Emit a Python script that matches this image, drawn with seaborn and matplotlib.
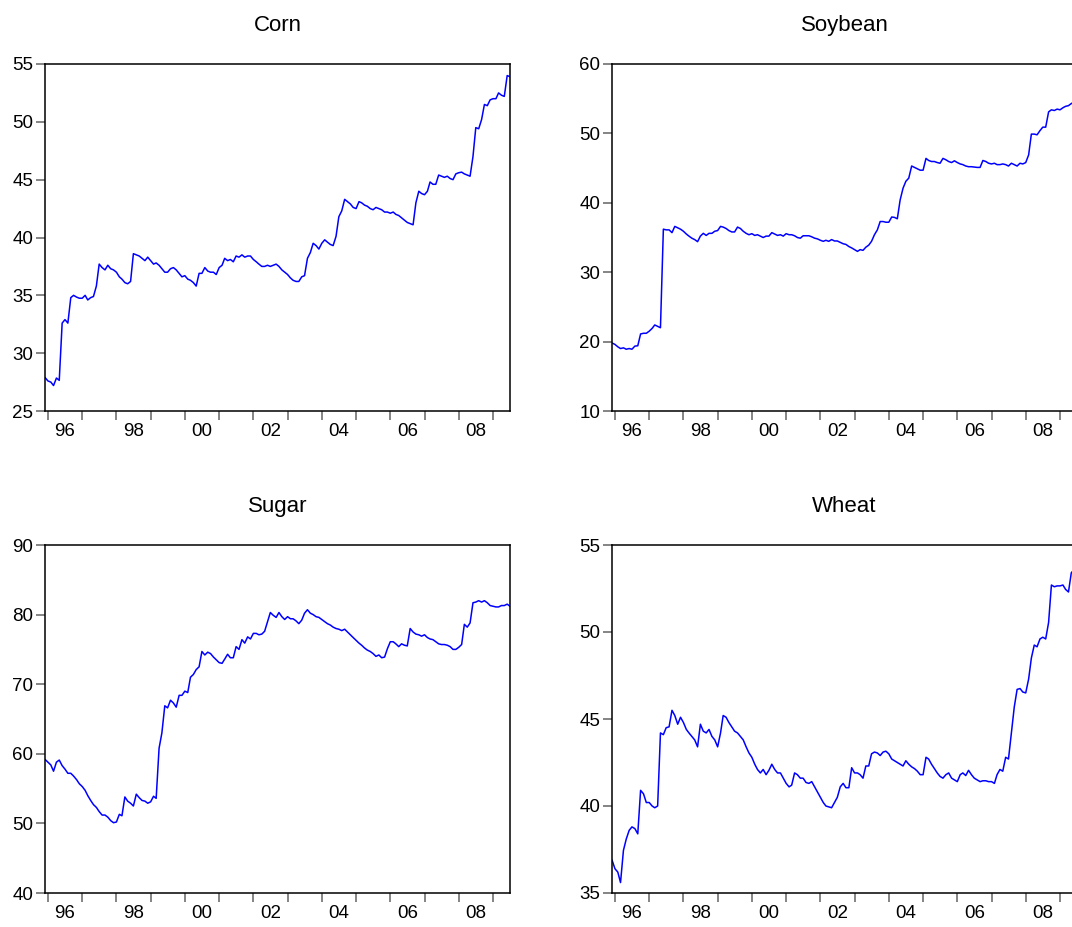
import pandas as pd
import matplotlib
matplotlib.use('Agg')
import matplotlib.pyplot as plt
import matplotlib.dates as mdates
import seaborn as sns

# monthly prices, Dec 1995 .. Jul 2009
corn = [27.9,
        27.6, 27.5, 27.2, 27.85, 27.65, 32.6, 32.9, 32.6, 34.8, 35.0, 34.85, 34.75,
        34.75, 35.0, 34.6, 34.8, 34.9, 35.8, 37.7, 37.4, 37.2, 37.6, 37.3, 37.2,
        37.0, 36.6, 36.4, 36.1, 36.0, 36.2, 38.6, 38.5, 38.4, 38.2, 38.0, 38.3,
        38.0, 37.7, 37.8, 37.6, 37.3, 37.0, 37.0, 37.3, 37.4, 37.2, 36.9, 36.6,
        36.7, 36.4, 36.3, 36.1, 35.8, 36.9, 36.9, 37.4, 37.1, 37.0, 37.0, 36.8,
        37.4, 37.6, 38.2, 38.0, 38.1, 37.9, 38.4, 38.3, 38.5, 38.3, 38.4, 38.4,
        38.1, 37.9, 37.7, 37.5, 37.5, 37.6, 37.5, 37.6, 37.7, 37.5, 37.2, 37.0,
        36.8, 36.5, 36.3, 36.2, 36.2, 36.6, 36.7, 38.2, 38.7, 39.5, 39.3, 39.0,
        39.5, 39.8, 39.6, 39.4, 39.3, 40.1, 41.8, 42.3, 43.3, 43.1, 42.9, 42.6,
        42.5, 43.1, 43.0, 42.8, 42.7, 42.5, 42.4, 42.6, 42.5, 42.4, 42.2, 42.2,
        42.1, 42.2, 42.0, 41.9, 41.7, 41.5, 41.3, 41.2, 41.1, 43.0, 44.0, 43.8,
        43.7, 44.0, 44.8, 44.6, 44.6, 45.4, 45.3, 45.2, 45.3, 45.1, 45.0, 45.5,
        45.6, 45.65, 45.5, 45.4, 45.3, 47.0, 49.5, 49.4, 50.2, 51.5, 51.4, 51.9,
        52.0, 52.0, 52.5, 52.3, 52.2, 54.0, 53.9]

soybean = [19.8,
           19.6, 19.25, 19.0, 19.1, 18.9, 19.0, 18.9, 19.35, 19.4, 21.1, 21.2, 21.2,
           21.5, 21.9, 22.4, 22.2, 22.0, 36.2, 36.1, 36.1, 35.7, 36.6, 36.4, 36.2,
           35.9, 35.5, 35.2, 34.9, 34.7, 34.4, 35.2, 35.6, 35.3, 35.6, 35.6, 35.9,
           36.0, 36.6, 36.5, 36.3, 36.0, 35.8, 35.8, 36.5, 36.3, 35.9, 35.6, 35.4,
           35.55, 35.3, 35.4, 35.2, 35.0, 35.2, 35.2, 35.7, 35.5, 35.3, 35.4, 35.2,
           35.55, 35.4, 35.4, 35.25, 35.0, 34.9, 35.25, 35.25, 35.25, 35.1, 34.9, 34.8,
           34.6, 34.45, 34.6, 34.45, 34.7, 34.5, 34.5, 34.3, 34.1, 34.0, 33.7, 33.5,
           33.25, 33.0, 33.25, 33.15, 33.6, 33.9, 34.45, 35.4, 36.1, 37.3, 37.3, 37.2,
           37.2, 37.95, 37.9, 37.7, 40.4, 42.1, 43.1, 43.55, 45.3, 45.1, 44.9, 44.7,
           44.7, 46.4, 46.1, 45.95, 45.95, 45.8, 45.7, 46.4, 46.2, 45.95, 45.8, 46.05,
           45.8, 45.6, 45.5, 45.3, 45.2, 45.2, 45.15, 45.1, 45.1, 46.1, 45.95, 45.7,
           45.6, 45.7, 45.5, 45.5, 45.6, 45.5, 45.3, 45.7, 45.5, 45.3, 45.7, 45.6,
           45.8, 46.9, 49.9, 49.9, 49.8, 50.4, 50.9, 50.9, 53.1, 53.4, 53.3, 53.5,
           53.4, 53.7, 53.9, 54.0, 54.3, 54.5, 54.7]

sugar = [59.2,
         58.8, 58.4, 57.5, 58.8, 59.1, 58.3, 57.8, 57.2, 57.2, 56.8, 56.3, 55.7,
         55.3, 54.75, 54.0, 53.3, 52.7, 52.3, 51.7, 51.2, 51.2, 50.9, 50.4, 50.1,
         50.2, 51.3, 51.1, 53.8, 53.2, 52.9, 52.5, 54.2, 53.7, 53.3, 53.2, 52.9,
         53.1, 53.9, 53.6, 60.8, 63.0, 66.9, 66.6, 67.7, 67.3, 66.7, 68.4, 68.4,
         69.0, 68.8, 71.0, 71.4, 72.1, 72.5, 74.7, 74.2, 74.6, 74.4, 73.9, 73.5,
         73.1, 73.0, 73.6, 74.3, 73.8, 73.8, 75.4, 75.0, 76.4, 75.9, 76.8, 76.5,
         77.3, 77.3, 77.1, 77.2, 77.6, 79.0, 80.3, 79.9, 79.6, 80.3, 79.7, 79.3,
         79.7, 79.4, 79.4, 79.1, 78.7, 79.2, 80.2, 80.7, 80.2, 80.0, 79.7, 79.6,
         79.3, 79.0, 78.7, 78.5, 78.2, 78.0, 77.9, 77.7, 77.9, 77.5, 77.1, 76.7,
         76.3, 75.9, 75.6, 75.2, 74.9, 74.7, 74.4, 74.0, 74.2, 73.8, 73.9, 75.1,
         76.1, 76.1, 75.8, 75.4, 75.8, 75.6, 75.5, 78.0, 77.5, 77.2, 77.1, 76.9,
         77.1, 76.7, 76.5, 76.4, 76.1, 75.8, 75.7, 75.7, 75.6, 75.4, 75.0, 75.0,
         75.3, 75.7, 78.6, 78.2, 78.8, 81.7, 81.8, 82.0, 81.8, 82.0, 81.7, 81.3,
         81.2, 81.1, 81.1, 81.3, 81.3, 81.5, 81.2]

wheat = [36.9,
         36.4, 36.2, 35.6, 37.45, 38.1, 38.6, 38.8, 38.7, 38.4, 40.9, 40.7, 40.2,
         40.2, 40.0, 39.9, 40.0, 44.2, 44.1, 44.5, 44.55, 45.5, 45.2, 44.7, 45.1,
         44.8, 44.4, 44.2, 44.0, 43.8, 43.4, 44.7, 44.3, 44.2, 44.4, 44.0, 43.8,
         43.4, 44.2, 45.2, 45.1, 44.8, 44.55, 44.3, 44.2, 44.0, 43.8, 43.4, 43.05,
         42.8, 42.4, 42.1, 41.9, 42.1, 41.8, 42.05, 42.4, 42.1, 41.9, 41.9, 41.6,
         41.3, 41.1, 41.2, 41.9, 41.8, 41.6, 41.6, 41.35, 41.3, 41.4, 41.1, 40.8,
         40.5, 40.2, 40.0, 39.95, 39.9, 40.2, 40.5, 41.1, 41.3, 41.05, 41.05, 42.2,
         41.9, 41.9, 41.8, 41.6, 42.3, 42.3, 43.0, 43.1, 43.05, 42.9, 43.1, 43.15,
         43.0, 42.7, 42.6, 42.5, 42.4, 42.3, 42.6, 42.4, 42.25, 42.15, 42.0, 41.8,
         41.8, 42.8, 42.7, 42.4, 42.15, 41.9, 41.7, 41.6, 41.8, 41.9, 41.6, 41.5,
         41.4, 41.8, 41.9, 41.75, 42.05, 41.8, 41.6, 41.5, 41.4, 41.45, 41.45, 41.4,
         41.4, 41.3, 41.8, 42.1, 42.0, 42.8, 42.7, 44.2, 45.7, 46.7, 46.75, 46.55,
         46.5, 47.3, 48.5, 49.25, 49.15, 49.6, 49.7, 49.6, 50.55, 52.7, 52.6, 52.65,
         52.65, 52.7, 52.45, 52.3, 53.4, 53.6, 53.8]

titles = ['Corn', 'Soybean', 'Sugar', 'Wheat']
y_limits = [(25, 55), (10, 60), (40, 90), (35, 55)]
y_steps = [5, 10, 10, 5]

sns.set_style('ticks')
plt.rcParams['font.family'] = ['Liberation Sans', 'DejaVu Sans']
plt.rcParams['text.color'] = 'black'
plt.rcParams['xtick.labelcolor'] = 'black'
plt.rcParams['ytick.labelcolor'] = 'black'

fig = plt.figure(figsize=(10.72, 9.27), dpi=100)
W, H = 1072, 927
# axes boxes in pixels: left, top, width, height
boxes = [(45, 64, 465, 347), (612, 64, 465, 347),
         (45, 545, 465, 348), (612, 545, 465, 348)]

for name, vals, box, ylim, step in zip(titles, [corn, soybean, sugar, wheat],
                                       boxes, y_limits, y_steps):
    df = pd.DataFrame({
        'date': pd.date_range('1995-12-01', periods=len(vals), freq='MS'),
        'price': vals,
    })
    l, t, w, h = box
    ax = fig.add_axes([l / W, 1 - (t + h) / H, w / W, h / H])
    sns.lineplot(data=df, x='date', y='price', ax=ax, color='#0000ff',
                 linewidth=1.1)
    ax.set_xlim(pd.Timestamp('1995-12-01'), pd.Timestamp('2009-07-01'))
    ax.set_ylim(*ylim)
    ax.set_yticks(range(ylim[0], ylim[1] + 1, step))
    ax.set_xlabel('')
    ax.set_ylabel('')
    ax.set_title(name, fontsize=16, pad=24, color='black')

    ax.xaxis.set_major_locator(mdates.YearLocator(1))
    ax.xaxis.set_major_formatter(plt.NullFormatter())
    ax.xaxis.set_minor_locator(mdates.YearLocator(2, month=7, day=1))
    ax.xaxis.set_minor_formatter(mdates.DateFormatter('%y'))
    ax.tick_params(axis='x', which='major', length=6.5, width=1.2,
                   color='#707070', direction='out')
    ax.tick_params(axis='x', which='minor', length=0, pad=8.5, labelsize=13.5)
    ax.tick_params(axis='y', length=6.5, width=1.2, color='#707070',
                   pad=2, labelsize=13.5)
    for sp in ax.spines.values():
        sp.set_visible(True)
        sp.set_color('black')
        sp.set_linewidth(1.1)

fig.savefig('out.png', dpi=100)
plt.close(fig)
